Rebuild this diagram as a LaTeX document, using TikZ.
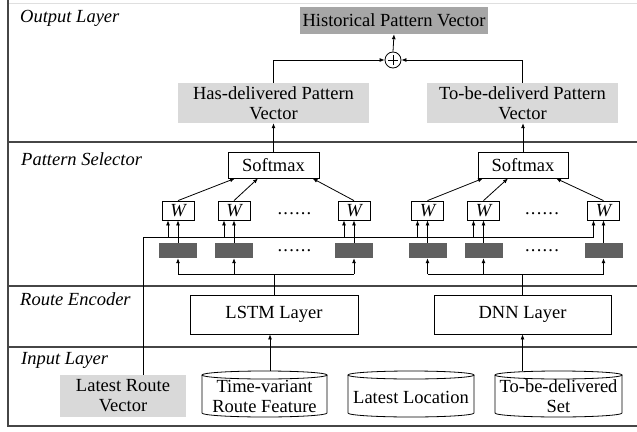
\documentclass[tikz,border=0pt]{standalone}
\usepackage{fontspec}
\setmainfont{Liberation Serif}
\usetikzlibrary{arrows.meta,calc}
\definecolor{palefill}{RGB}{217,217,217}
\definecolor{midfill}{RGB}{166,166,166}
\definecolor{cellfill}{RGB}{96,96,96}
\definecolor{frameline}{RGB}{70,70,70}

% outline of a drum (data store) between x1,y1 and x2,y2 (y grows downwards)
\newcommand\drumoutline[4]{%
  \draw[link] ({(#1+#3)/2},{#2+4}) ellipse [x radius={(#3-#1)/2}, y radius=4];
  \draw[link] (#1,{#2+4}) -- (#1,{#4-4})
    arc[start angle=180, end angle=0, x radius={(#3-#1)/2}, y radius=4]
    -- (#3,{#2+4});}

\begin{document}
\begin{tikzpicture}[x=1pt,y=-1pt,
  font=\fontsize{18.5}{20}\selectfont,
  link/.style={line width=0.8pt},
  arr/.style={-{Latex[length=5pt,width=4pt]}, line width=0.8pt},
  layerline/.style={draw=frameline, line width=1.2pt},
  layername/.style={font=\fontsize{18.5}{20}\selectfont\itshape, anchor=base west, inner sep=0},
  pale/.style={fill=palefill, inner sep=0, align=center},
  plainbox/.style={draw, line width=0.8pt, inner sep=0, align=center},
  wbox/.style={draw, line width=0.8pt, minimum width=32pt, minimum height=19pt, inner sep=0, font=\fontsize{18.5}{20}\selectfont\itshape},
  cell/.style={fill=cellfill, minimum width=38pt, minimum height=15pt, inner sep=0},
  drum/.style={inner sep=0, minimum height=46pt},
  dotrow/.style={anchor=base, inner sep=0}
]
\useasboundingbox (0,0) rectangle (637,431);

% layer frame
\draw[gray!25, line width=0.6pt] (8,3) -- (637,3);
\draw[layerline] (8,0) -- (8,426) -- (637,426);
\foreach \yy in {142,286,347} \draw[layerline] (8,\yy) -- (637,\yy);

\node[layername] (lOut)   at (20,22)  {Output Layer};
\node[layername] (lSel)   at (21,165) {Pattern Selector};
\node[layername] (lEnc)   at (20,305) {Route Encoder};
\node[layername] (lIn)    at (21,364) {Input Layer};

% output layer
\node[fill=midfill, inner sep=0, minimum width=188pt, minimum height=27pt] (hist) at (394,20.5) {Historical Pattern Vector};
\node[draw, circle, line width=0.8pt, minimum size=16pt, inner sep=0] (sum) at (393,60) {};
\draw[link] ([xshift=-5pt]sum.center) -- ([xshift=5pt]sum.center);
\draw[link] ([yshift=-5pt]sum.center) -- ([yshift=5pt]sum.center);
\node[pale, minimum width=191pt, minimum height=40pt] (has) at (273.5,103) {Has-delivered Pattern\\Vector};
\node[pale, minimum width=191pt, minimum height=40pt] (tbd) at (522.5,103) {To-be-deliverd Pattern\\Vector};

\draw[arr] (sum.north) -- (hist.south);
\draw[arr] (has.north) |- (sum.west);
\draw[arr] (tbd.north) |- (sum.east);

% pattern selector
\node[plainbox, minimum width=91pt, minimum height=26pt] (smL) at (273.5,165) {Softmax};
\node[plainbox, minimum width=90pt, minimum height=26pt] (smR) at (523,165) {Softmax};
\draw[arr] (smL.north) -- (has.south);
\draw[arr] (smR.north) -- (smR.north |- tbd.south);

\node[wbox] (wA) at (178,210.5)   {W};
\node[wbox] (wB) at (234,210.5)   {W};
\node[wbox] (wC) at (354,210.5)   {W};
\node[wbox] (wD) at (427.5,210.5) {W};
\node[wbox] (wE) at (483.5,210.5) {W};
\node[wbox] (wF) at (603.5,210.5) {W};

\node[cell] (cA) at (178,250.5)   {};
\node[cell] (cB) at (234,250.5)   {};
\node[cell] (cC) at (354,250.5)   {};
\node[cell] (cD) at (427.5,250.5) {};
\node[cell] (cE) at (483.5,250.5) {};
\node[cell] (cF) at (603.5,250.5) {};

\node[dotrow] (dWL) at (294.5,214) {.\kern1.2pt.\kern1.2pt.\kern1.2pt.\kern1.2pt.\kern1.2pt.};
\node[dotrow] (dCL) at (294.5,251) {.\kern1.2pt.\kern1.2pt.\kern1.2pt.\kern1.2pt.\kern1.2pt.};
\node[dotrow] (dWR) at (542,214)   {.\kern1.2pt.\kern1.2pt.\kern1.2pt.\kern1.2pt.\kern1.2pt.};
\node[dotrow] (dCR) at (542,251)   {.\kern1.2pt.\kern1.2pt.\kern1.2pt.\kern1.2pt.\kern1.2pt.};

\draw[arr] (wA.north) -- ([xshift=-38.5pt]smL.south);
\draw[arr] (wB.north) -- ([xshift=-15.5pt]smL.south);
\draw[arr] (wC.north) -- ([xshift=39pt]smL.south);
\draw[arr] (wD.north) -- ([xshift=-40pt]smR.south);
\draw[arr] (wE.north) -- ([xshift=-15pt]smR.south);
\draw[arr] (wF.north) -- ([xshift=33pt]smR.south);

\foreach \k in {A,B,C,D,E,F}{
  \draw[arr] (c\k.north) -- (w\k.south);
  \draw[arr] ([xshift=-10pt,yshift=-17pt]w\k.south) -- ([xshift=-10pt]w\k.south);
}

% route encoder
\node[plainbox, minimum width=168pt, minimum height=39pt] (lstm) at (274,314.5) {LSTM Layer};
\node[plainbox, minimum width=177pt, minimum height=39pt] (dnn) at (522.5,314.5) {DNN Layer};

\coordinate (lowL) at ([yshift=-16pt]cA.south);
\coordinate (lowR) at ([yshift=-16pt]cD.south);
\draw[link] (lowL) -- (lowL -| cC.south);
\draw[link] (lowR) -- (lowR -| cF.south);
\draw[link] (lstm.north) -- (lstm.north |- lowL);
\draw[link] (dnn.north) -- (dnn.north |- lowR);
\foreach \k in {A,B,C}{ \draw[arr] (lowL -| c\k.south) -- (c\k.south); }
\foreach \k in {D,E,F}{ \draw[arr] (lowR -| c\k.south) -- (c\k.south); }

% input layer
\node[pale, minimum width=126pt, minimum height=42pt] (lrv) at (123,396) {Latest Route\\Vector};
\coordinate (busend) at (593.5,237);
\draw[link] ([xshift=20pt]lrv.north) |- (busend);

\drumoutline{202}{371}{327}{417}
\drumoutline{348}{371}{474}{417}
\drumoutline{495}{371}{622}{417}
\node[drum, minimum width=125pt] (tv)  at (264.5,394) {};
\node[drum, minimum width=126pt] (loc) at (411,394)   {};
\node[drum, minimum width=127pt] (tbs) at (558.5,394) {};
\node[align=center, inner sep=0] (tvtext)  at ([yshift=-2.5pt]tv.center)  {Time-variant\\Route Feature};
\node[align=center, inner sep=0] (loctext) at ([yshift=-3pt]loc.center) {Latest Location};
\node[align=center, inner sep=0] (tbstext) at ([yshift=-2.5pt]tbs.center) {To-be-delivered\\Set};

\draw[arr] ([xshift=-4pt]lstm.south |- tv.north) -- ([xshift=-4pt]lstm.south);
\draw[arr] (dnn.south |- tbs.north) -- (dnn.south);
\end{tikzpicture}
\end{document}
